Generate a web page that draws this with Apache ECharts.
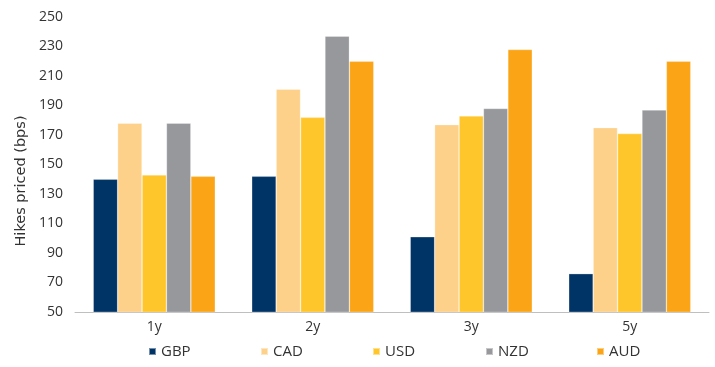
<!DOCTYPE html>
<html>
<head>
<meta charset="utf-8">
<script src="https://cdn.jsdelivr.net/npm/echarts@6/dist/echarts.min.js"></script>
<style>
  html, body { margin: 0; padding: 0; background: #fff; }
  #chart { width: 715px; height: 367px; }
</style>
</head>
<body>
<div id="chart"></div>
<script>
// Tenors on the x axis
const tenors = ['1y', '2y', '3y', '5y'];

// Hikes priced (bps) per currency
const gbp = [140, 142, 101, 76];
const cad = [178, 201, 177, 175];
const usd = [143, 182, 183, 171];
const nzd = [178, 237, 188, 187];
const aud = [142, 220, 228, 220];

// Y axis range, step and title
const yMin = 50;
const yMax = 250;
const yStep = 20;
const yTitle = 'Hikes priced (bps)';

const seriesDefs = [
  { name: 'GBP', data: gbp, color: '#003366' },
  { name: 'CAD', data: cad, color: '#fdd189' },
  { name: 'USD', data: usd, color: '#ffc62c' },
  { name: 'NZD', data: nzd, color: '#97989c' },
  { name: 'AUD', data: aud, color: '#fba516' }
];

// Left edge of each legend entry, evenly spaced under the plot
const legendLefts = [148, 260, 372, 485, 596];

const fontFamily = '"Open Sans", "Noto Sans", sans-serif';
const textColor = '#333';

const chart = echarts.init(document.getElementById('chart'));
chart.setOption({
  animation: false,
  textStyle: { fontFamily: fontFamily },
  grid: { left: 75, right: 6, top: 17, bottom: 55 },
  // Vertical y-axis title, read bottom to top
  graphic: [{
    type: 'text',
    x: 21,
    y: 181,
    rotation: Math.PI / 2,
    style: {
      text: yTitle,
      fill: textColor,
      font: '14.5px "DejaVu Sans", "Open Sans", sans-serif',
      textAlign: 'center',
      textVerticalAlign: 'middle'
    }
  }],
  legend: seriesDefs.map((s, i) => ({
    left: legendLefts[i],
    top: 344,
    padding: 0,
    itemWidth: 7,
    itemHeight: 7,
    icon: 'rect',
    textStyle: { fontSize: 15, color: textColor, fontFamily: fontFamily },
    data: [s.name]
  })),
  xAxis: {
    type: 'category',
    data: tenors,
    axisLine: { lineStyle: { color: '#bfbfbf', width: 1 } },
    axisTick: { show: false },
    axisLabel: { fontSize: 14, color: textColor, margin: 8, fontFamily: fontFamily }
  },
  yAxis: {
    type: 'value',
    min: yMin,
    max: yMax,
    interval: yStep,
    axisLine: { show: false },
    axisTick: { show: false },
    splitLine: { show: false },
    axisLabel: { fontSize: 14, color: textColor, margin: 12, fontFamily: fontFamily }
  },
  series: seriesDefs.map(s => ({
    name: s.name,
    type: 'bar',
    data: s.data,
    barGap: '0%',
    barCategoryGap: '23%',
    itemStyle: { color: s.color, borderColor: 'rgba(255,255,255,0.45)', borderWidth: 0.6 }
  }))
});
</script>
</body>
</html>
